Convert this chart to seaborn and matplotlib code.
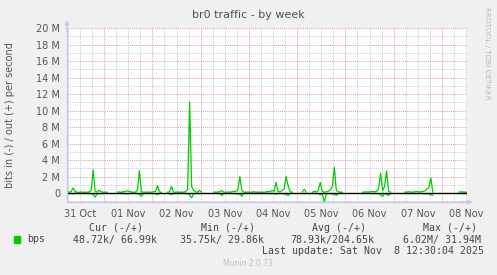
import numpy as np
import pandas as pd
import matplotlib
matplotlib.use("Agg")
import matplotlib.pyplot as plt
import seaborn as sns

nan = np.nan

# ---- data (values in Mbit/s, hourly samples from 31 Oct 05:30) ----
start_time = "2025-10-31 05:30"
out_mbps = [
    0.10, 0.12, 0.15, 0.60, 0.20, 0.10, 0.08, 0.12, 0.10, 0.09,
    0.10, 0.12, 0.30, 2.80, 0.20, 0.10, 0.35, 0.15, 0.10, 0.10,
    0.10, nan, nan, nan, nan, 0.10, 0.12, 0.10, 0.15, 0.20,
    0.25, 0.20, 0.12, 0.10, 0.10, 0.30, 2.70, 0.15, 0.10, 0.10,
    0.12, 0.10, 0.10, 0.15, 0.20, 0.90, 0.10, 0.10, nan, nan,
    0.10, 0.15, 0.80, 0.10, 0.10, 0.12, 0.10, 0.10, 0.12, 0.15,
    0.40, 11.0, 0.80, 0.30, 0.15, 0.10, 0.30, 0.10, nan, nan,
    nan, nan, nan, 0.10, 0.12, 0.10, 0.15, 0.30, 0.10, 0.10,
    0.12, 0.10, 0.15, 0.20, 0.20, 0.40, 2.00, 0.30, 0.10, 0.10,
    0.12, 0.10, 0.10, 0.15, 0.10, 0.12, 0.10, 0.10, 0.10, 0.12,
    0.20, 0.15, 0.30, 0.20, 1.30, 0.20, 0.15, 0.30, 0.50, 2.00,
    0.90, 0.15, 0.10, nan, nan, nan, nan, 0.10, 0.45, 0.10,
    nan, nan, 0.10, 0.20, 0.15, 0.30, 1.30, 0.20, 0.10, 0.15,
    0.20, 0.40, 0.80, 3.10, 0.30, 0.15, 0.10, 0.10, nan, nan,
    nan, nan, nan, nan, nan, nan, nan, 0.10, 0.12, 0.15,
    0.12, 0.15, 0.20, 0.15, 0.20, 0.50, 2.40, 0.30, 0.80, 2.70,
    0.20, 0.10, nan, nan, nan, nan, nan, nan, 0.10, 0.12,
    0.15, 0.12, 0.10, 0.15, 0.20, 0.12, 0.15, 0.20, 0.25, 0.50,
    0.60, 1.85, 0.10, nan, nan, nan, nan, nan, nan, nan,
    nan, nan, nan, nan, nan, 0.10, 0.15, 0.12, 0.10, 0.10,
]
in_mbps = [
    -0.05, -0.06, -0.05, -0.10, -0.05, -0.04, -0.05, -0.05, -0.06, -0.05,
    -0.05, -0.05, -0.08, -0.15, -0.50, -0.08, -0.10, -0.05, -0.05, -0.05,
    -0.05, nan, nan, nan, nan, -0.05, -0.05, -0.06, -0.05, -0.08,
    -0.10, -0.06, -0.05, -0.05, -0.05, -0.08, -0.15, -0.40, -0.06, -0.05,
    -0.05, -0.05, -0.05, -0.06, -0.08, -0.20, -0.05, -0.05, nan, nan,
    -0.05, -0.06, -0.20, -0.05, -0.05, -0.05, -0.05, -0.05, -0.06, -0.05,
    -0.10, -0.20, -0.60, -0.10, -0.05, -0.05, -0.08, -0.05, nan, nan,
    nan, nan, nan, -0.05, -0.05, -0.05, -0.06, -0.30, -0.05, -0.05,
    -0.05, -0.05, -0.06, -0.05, -0.08, -0.10, -0.15, -0.40, -0.05, -0.05,
    -0.05, -0.05, -0.05, -0.06, -0.05, -0.05, -0.05, -0.05, -0.05, -0.05,
    -0.06, -0.05, -0.08, -0.05, -0.15, -0.06, -0.05, -0.08, -0.10, -0.15,
    -0.30, -0.05, -0.05, nan, nan, nan, nan, -0.05, -0.10, -0.05,
    nan, nan, -0.05, -0.06, -0.05, -0.08, -0.20, -0.10, -1.10, -0.10,
    -0.06, -0.08, -0.10, -0.15, -0.30, -0.05, -0.05, -0.05, nan, nan,
    nan, nan, nan, nan, nan, nan, nan, -0.05, -0.05, -0.05,
    -0.05, -0.05, -0.06, -0.05, -0.06, -0.10, -0.20, -0.40, -0.10, -0.15,
    -0.30, -0.05, nan, nan, nan, nan, nan, nan, -0.05, -0.05,
    -0.05, -0.05, -0.05, -0.06, -0.05, -0.05, -0.05, -0.06, -0.08, -0.10,
    -0.10, -0.20, -0.30, nan, nan, nan, nan, nan, nan, nan,
    nan, nan, nan, nan, nan, -0.05, -0.06, -0.05, -0.05, -0.05,
]
day_labels = ["31 Oct", "01 Nov", "02 Nov", "03 Nov", "04 Nov",
              "05 Nov", "06 Nov", "07 Nov", "08 Nov"]
ytick_vals = [0, 2, 4, 6, 8, 10, 12, 14, 16, 18, 20]
ytick_labels = ["0", "2 M", "4 M", "6 M", "8 M", "10 M", "12 M",
                "14 M", "16 M", "18 M", "20 M"]
legend_headers = ["Cur (-/+)", "Min (-/+)", "Avg (-/+)", "Max (-/+)"]
legend_values = ["48.72k/ 66.99k", "35.75k/ 29.86k", "78.93k/204.65k", "6.02M/ 31.94M"]

assert len(out_mbps) == len(in_mbps) == 200

times = pd.date_range(start_time, periods=len(out_mbps), freq="h")
df = pd.DataFrame({"time": times, "out": out_mbps, "in": in_mbps})
long = df.melt(id_vars="time", var_name="dir", value_name="bps")
long["seg"] = long.groupby("dir")["bps"].transform(lambda s: s.isna().cumsum())
long = long.dropna(subset=["bps"]).copy()
long["unit"] = long["dir"] + "_" + long["seg"].astype(int).astype(str)

# ---- style ----
sns.set_theme(style="white")
plt.rcParams["font.family"] = ["DejaVu Sans"]
BG = "#F0F0F0"
TXT = "#555555"
GREEN = "#00CC00"

fig = plt.figure(figsize=(4.97, 2.75), dpi=100, facecolor=BG)
ax = fig.add_axes([67 / 497, 73 / 275, 400 / 497, 174 / 275])
ax.set_facecolor("white")

x0 = pd.Timestamp("2025-10-31 05:30")
x1 = pd.Timestamp("2025-11-08 12:30")
y0, y1 = -1.09, 20.0

# grid
for v in range(-1, 21):
    if v % 2 == 0:
        ax.axhline(v, color="#EBA0A0", lw=0.75, ls=(0, (1, 1)), zorder=1)
    else:
        ax.axhline(v, color="#CCCCCC", lw=0.75, ls=(0, (1, 1)), zorder=1)
for t in pd.date_range("2025-10-31 06:00", "2025-11-08 12:00", freq="6h"):
    if t.hour == 0:
        ax.axvline(t, color="#EBA0A0", lw=0.75, ls=(0, (1, 1)), zorder=1)
    else:
        ax.axvline(t, color="#CCCCCC", lw=0.75, ls=(0, (1, 1)), zorder=1)

sns.lineplot(data=long, x="time", y="bps", hue="dir", units="unit",
             estimator=None, palette={"out": GREEN, "in": GREEN},
             lw=0.9, legend=False, ax=ax, zorder=3)
ax.axhline(0, color="black", lw=1.0, zorder=4)

ax.set_xlim(x0, x1)
ax.set_ylim(y0, y1)
ax.set_xlabel("")
ax.set_ylabel("bits in (-) / out (+) per second", fontsize=7, color=TXT)
ax.yaxis.set_label_coords(-52 / 400, 0.5)

ax.set_yticks(ytick_vals, ytick_labels)
noon = pd.date_range("2025-10-31 12:00", periods=len(day_labels), freq="D")
ax.set_xticks(noon, day_labels)
ax.tick_params(axis="both", length=0, labelsize=7, labelcolor=TXT)
ax.tick_params(axis="y", pad=5)
ax.tick_params(axis="x", pad=5)

for s in ["top", "right"]:
    ax.spines[s].set_visible(False)
for s in ["left", "bottom"]:
    ax.spines[s].set_color("#C4C4EE")
    ax.spines[s].set_linewidth(0.9)
    ax.spines[s].set_zorder(5)

arrow = dict(arrowstyle="-|>", color="#C4C4EE", lw=0.9, mutation_scale=6,
             shrinkA=0, shrinkB=0)
ax.annotate("", xy=(0, 1.045), xytext=(0, 0.98), xycoords="axes fraction",
            arrowprops=arrow, annotation_clip=False)
ax.annotate("", xy=(1.014, 0), xytext=(0.98, 0), xycoords="axes fraction",
            arrowprops=arrow, annotation_clip=False)

# title and side texts
fig.text(248.5 / 497, 1 - 15 / 275, "br0 traffic - by week", ha="center",
         va="center", fontsize=8, color="#505050")
fig.text(487.5 / 497, 1 - 53 / 275, "RRDTOOL / TOBI OETIKER", ha="center",
         va="center", rotation=-90, fontsize=5.2, color="#BBBBBB")

mono = dict(family="DejaVu Sans Mono", fontsize=7.1, color="#444444", va="center")
for x, h in zip([89, 201, 311.7, 423], legend_headers):
    fig.text(x / 497, 1 - 228 / 275, h, ha="left", **mono)
for x, v in zip([72.7, 180.3, 290, 403], legend_values):
    fig.text(x / 497, 1 - 239.5 / 275, v, ha="left", **mono)
fig.text(27 / 497, 1 - 239.5 / 275, "bps", ha="left", **mono)
fig.patches.append(plt.Rectangle((14 / 497, 1 - 243 / 275), 6 / 497, 7 / 275,
                                 transform=fig.transFigure, color=GREEN))
fig.text(261.7 / 497, 1 - 251 / 275, "Last update: Sat Nov  8 12:30:04 2025",
         ha="left", **mono)
fig.text(248 / 497, 1 - 264 / 275, "Munin 2.0.73", ha="center", va="center",
         fontsize=5.5, color="#C0C0C0")

fig.savefig("out.png", dpi=100, facecolor=BG)
